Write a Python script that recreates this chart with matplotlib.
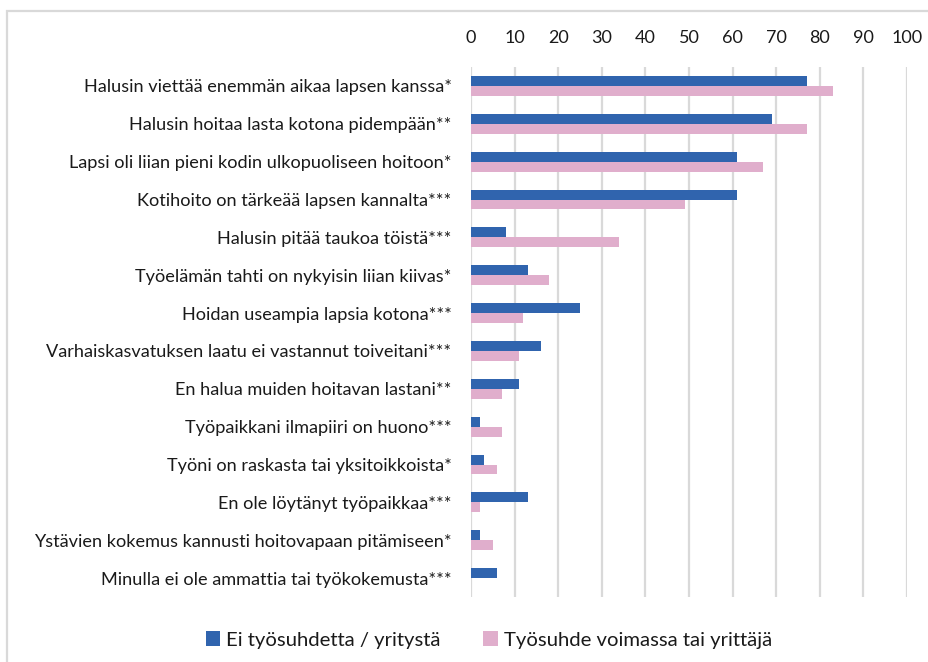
import matplotlib
matplotlib.use("Agg")
import matplotlib.pyplot as plt
from matplotlib.patches import Rectangle, Patch
import numpy as np

categories = [
    "Halusin viettää enemmän aikaa lapsen kanssa*",
    "Halusin hoitaa lasta kotona pidempään**",
    "Lapsi oli liian pieni kodin ulkopuoliseen hoitoon*",
    "Kotihoito on tärkeää lapsen kannalta***",
    "Halusin pitää taukoa töistä***",
    "Työelämän tahti on nykyisin liian kiivas*",
    "Hoidan useampia lapsia kotona***",
    "Varhaiskasvatuksen laatu ei vastannut toiveitani***",
    "En halua muiden hoitavan lastani**",
    "Työpaikkani ilmapiiri on huono***",
    "Työni on raskasta tai yksitoikkoista*",
    "En ole löytänyt työpaikkaa***",
    "Ystävien kokemus kannusti hoitovapaan pitämiseen*",
    "Minulla ei ole ammattia tai työkokemusta***",
]
series_names = ["Ei työsuhdetta / yritystä", "Työsuhde voimassa tai yrittäjä"]
no_job = [77, 69, 61, 61, 8, 13, 25, 16, 11, 2, 3, 13, 2, 6]
employed = [83, 77, 67, 49, 34, 18, 12, 11, 7, 7, 6, 2, 5, 0]
x_ticks = [0, 10, 20, 30, 40, 50, 60, 70, 80, 90, 100]

blue = "#3064AE"
pink = "#E0AECC"
grid_c = "#D9D9D9"
font = ["Lato", "DejaVu Sans"]
plt.rcParams["font.family"] = font

fig = plt.figure(figsize=(9.29, 6.62), dpi=100)
ax = fig.add_axes([471 / 929, 1 - 597 / 662, (907 - 471) / 929, (597 - 67) / 662])

y = np.arange(len(categories))
h = 0.264
ax.barh(y - h / 2, no_job, height=h, color=blue, zorder=3)
ax.barh(y + h / 2, employed, height=h, color=pink, zorder=3)

ax.set_xlim(0, 100)
ax.set_ylim(len(categories) - 0.5, -0.5)
ax.set_xticks(x_ticks)
ax.set_xticklabels([str(v) for v in x_ticks])
ax.set_yticks(y)
ax.set_yticklabels(categories)
ax.xaxis.tick_top()
ax.tick_params(axis="x", length=0, pad=15, labelsize=13, colors="#1a1a1a")
ax.tick_params(axis="y", length=0, pad=14, labelsize=13.1, colors="#1a1a1a")
for s in ax.spines.values():
    s.set_visible(False)
ax.grid(axis="x", color=grid_c, linewidth=1.6, zorder=0)
ax.set_axisbelow(True)

handles = [Patch(facecolor=blue), Patch(facecolor=pink)]
fig.legend(handles, series_names, loc="center", bbox_to_anchor=(489 / 929, 1 - 640 / 662),
           ncol=2, frameon=False, fontsize=14.6, handlelength=0.7, handleheight=0.7,
           handletextpad=0.3, columnspacing=2.1, labelcolor="#1a1a1a")

fig.patches.append(Rectangle((7.5 / 929, -0.05), 1.1, 1 - 11 / 662 + 0.05,
                             transform=fig.transFigure, fill=False,
                             edgecolor=grid_c, linewidth=1.6, clip_on=False))

fig.savefig("out.png", dpi=100, facecolor="white")
